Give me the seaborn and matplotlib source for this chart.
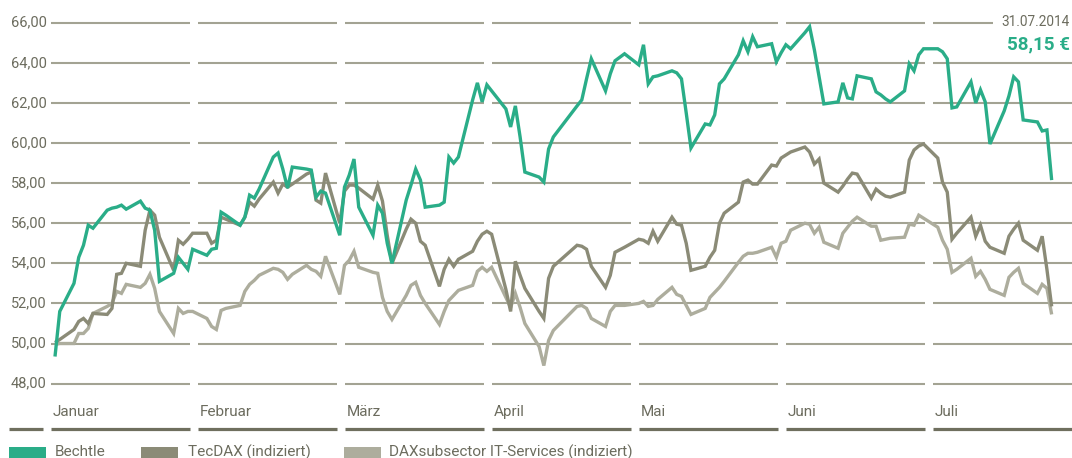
import numpy as np
import pandas as pd
import matplotlib
matplotlib.use("Agg")
import matplotlib.pyplot as plt
from matplotlib.patches import Rectangle
import seaborn as sns

# ---------------- data ----------------
series_names = ["Bechtle", "TecDAX (indiziert)", "DAXsubsector IT-Services (indiziert)"]
months = ["Januar", "Februar", "März", "April", "Mai", "Juni", "Juli"]
y_ticks = [48, 50, 52, 54, 56, 58, 60, 62, 64, 66]
y_tick_labels = ["48,00", "50,00", "52,00", "54,00", "56,00", "58,00", "60,00", "62,00", "64,00", "66,00"]
last_date_label = "31.07.2014"
last_value_label = "58,15 €"
holidays = ["2014-04-18", "2014-04-21", "2014-05-01"]

bechtle = (
    [49.35, 51.6, 53.0, 54.3, 54.9, 55.9, 55.75, 56.65, 56.75, 56.8, 56.9, 56.7, 57.1, 56.75, 56.65, 55.65, 53.1, 53.5, 54.3, 54.0, 53.7, 54.7]
    + [54.4, 54.7, 54.75, 56.55, 56.4, 55.9, 56.3, 57.4, 57.25, 57.7, 59.3, 59.5, 58.7, 57.75, 58.8, 58.7, 58.65, 57.3, 57.6, 57.5]
    + [55.4, 57.8, 58.4, 59.2, 56.8, 55.4, 56.9, 56.5, 55.0, 54.0, 57.15, 57.9, 58.7, 58.15, 56.8, 56.9, 57.05, 59.3, 59.0, 59.3, 62.15]
    + [63.0, 62.05, 62.9, 62.6, 61.7, 60.8, 61.85, 60.3, 58.55, 58.3, 58.05, 59.7, 60.3, 61.85, 62.15, 63.2, 64.2, 62.6, 63.45, 64.1]
    + [64.45, 63.9, 64.9, 62.95, 63.3, 63.35, 63.6, 63.5, 63.2, 61.5, 59.75, 60.95, 60.9, 61.4, 62.95, 63.2, 64.4, 65.1, 64.55, 65.3, 64.8]
    + [64.95, 64.05, 64.5, 64.9, 64.7, 65.5, 65.8, 64.65, 63.3, 61.95, 62.05, 63.0, 62.25, 62.2, 63.35, 63.2, 62.55, 62.4, 62.2, 62.05, 62.6]
    + [63.95, 63.6, 64.4, 64.7, 64.7, 64.55, 64.2, 61.75, 61.8, 63.05, 62.0, 62.65, 62.05, 59.95, 61.6, 62.35, 63.3, 63.05, 61.15, 61.05, 60.6, 60.65, 58.15]
)
tecdax = (
    [50.05, 50.2, 50.7, 51.1, 51.25, 51.0, 51.5, 51.45, 51.75, 53.45, 53.5, 54.0, 53.85, 55.65, 56.65, 56.4, 55.3, 53.65, 55.15, 54.95, 55.2, 55.5]
    + [55.5, 55.0, 55.15, 56.3, 56.2, 55.9, 56.3, 57.05, 56.85, 57.2, 58.05, 57.5, 57.95, 57.8, 57.95, 58.45, 58.55, 57.15, 57.0, 58.5]
    + [56.0, 57.6, 57.9, 57.9, 57.75, 57.2, 57.9, 57.1, 55.4, 54.0, 55.7, 56.2, 56.0, 55.1, 54.9, 52.85, 53.7, 54.2, 53.85, 54.2, 54.6]
    + [55.1, 55.45, 55.6, 55.45, 52.7, 51.6, 54.1, 53.4, 52.75, 51.6, 51.25, 53.25, 53.85, 54.9, 54.85, 54.7, 53.85, 52.8, 53.4, 54.55]
    + [54.8, 55.2, 55.15, 55.0, 55.6, 55.1, 56.3, 55.95, 55.9, 55.0, 53.65, 53.85, 54.3, 54.65, 56.0, 56.5, 57.05, 58.05, 58.15, 57.95, 57.95]
    + [58.9, 58.85, 59.25, 59.4, 59.55, 59.8, 59.55, 58.95, 59.2, 58.0, 57.55, 57.85, 58.2, 58.5, 58.45, 57.25, 57.7, 57.5, 57.35, 57.3, 57.55]
    + [59.15, 59.65, 59.85, 59.95, 59.25, 58.05, 57.55, 55.2, 55.5, 56.3, 55.35, 55.9, 55.1, 54.8, 54.5, 55.35, 55.7, 56.0, 55.15, 54.65, 55.35, 53.7, 51.85]
)
dax_it = (
    [49.95, 50.0, 50.0, 50.5, 50.5, 50.75, 51.5, 51.85, 52.0, 52.6, 52.5, 52.95, 52.8, 53.0, 53.45, 52.75, 51.6, 50.5, 51.75, 51.5, 51.6, 51.6]
    + [51.25, 50.85, 50.7, 51.65, 51.75, 51.9, 52.6, 52.95, 53.15, 53.4, 53.75, 53.7, 53.55, 53.2, 53.45, 53.9, 53.7, 53.6, 53.35, 54.35]
    + [52.45, 53.9, 54.15, 54.6, 53.8, 53.55, 53.5, 52.3, 51.6, 51.2, 52.4, 52.9, 53.05, 52.4, 52.0, 50.95, 51.6, 52.15, 52.4, 52.65, 52.9]
    + [53.6, 53.8, 53.6, 53.8, 52.3, 51.8, 52.5, 51.8, 51.0, 49.85, 48.9, 50.15, 50.65, 51.85, 51.9, 51.75, 51.25, 50.85, 51.6, 51.9]
    + [51.9, 52.0, 52.1, 51.85, 51.9, 52.2, 52.8, 52.45, 52.35, 51.9, 51.45, 51.75, 52.3, 52.55, 52.8, 53.1, 54.05, 54.35, 54.5, 54.5, 54.55]
    + [54.8, 54.3, 55.0, 55.1, 55.65, 56.0, 55.95, 55.5, 55.8, 55.05, 54.75, 55.5, 55.8, 56.1, 56.3, 55.85, 55.85, 55.15, 55.2, 55.25, 55.3]
    + [55.95, 55.9, 56.4, 56.25, 55.8, 55.15, 54.7, 53.55, 53.7, 54.25, 53.35, 53.6, 53.2, 52.7, 52.4, 53.3, 53.55, 53.75, 53.0, 52.5, 52.95, 52.75, 51.45]
)

# trading days (x positions)
dates = pd.bdate_range("2014-01-02", "2014-07-31")
dates = dates[~dates.isin(pd.to_datetime(holidays))]
day = (dates - dates[0]).days.values

df = pd.concat([
    pd.DataFrame({"day": day, "value": vals, "series": name})
    for name, vals in zip(series_names, [bechtle, tecdax, dax_it])
], ignore_index=True)

# ---------------- style ----------------
GREEN = "#2aad88"
DARK = "#8b8b77"
LIGHT = "#adad9d"
GRID = "#a3a393"
BASE = "#6f6f5e"
TEXT = "#6c6c5e"
palette = {series_names[0]: GREEN, series_names[1]: DARK, series_names[2]: LIGHT}

sns.set_theme(style="white")
plt.rcParams["font.family"] = ["Roboto", "DejaVu Sans"]

W, H = 1072, 458
fig = plt.figure(figsize=(W / 100, H / 100), dpi=100)
ax = fig.add_axes([0, 0, 1, 1])

X0_PX, PX_PER_DAY = 55.0, 4.746
Y66_PX, PX_PER_UNIT = 22.7, 20.05


def xd(px):
    return (px - X0_PX) / PX_PER_DAY


def yd(py):
    return 66 - (py - Y66_PX) / PX_PER_UNIT


def fx(px):
    return px / W


def fy(py):
    return 1 - py / H


# month segments (pixel extents)
seg_starts = [51 + 147 * i for i in range(7)]
seg_w = 139

# grid lines
for v in y_ticks:
    for i, s in enumerate(seg_starts):
        e = s + seg_w
        if i == 6:
            e = 993 if v == 66 else W
        ax.plot([xd(s), xd(e)], [v, v], color=GRID, lw=1.5, zorder=1,
                solid_capstyle="butt")

# data lines
sns.lineplot(data=df, x="day", y="value", hue="series",
             hue_order=[series_names[2], series_names[1], series_names[0]],
             palette=palette, estimator=None, legend=False, ax=ax,
             linewidth=2.4)
for ln in ax.lines[-3:]:
    ln.set_solid_joinstyle("miter")
    ln.set_solid_capstyle("butt")

# bottom base line segments
base_y = yd(429)
ax.plot([xd(9), xd(43)], [base_y, base_y], color=BASE, lw=2.3, solid_capstyle="butt")
for i, s in enumerate(seg_starts):
    e = s + seg_w if i < 6 else W
    ax.plot([xd(s), xd(e)], [base_y, base_y], color=BASE, lw=2.3, solid_capstyle="butt")

# month labels
for s, name in zip(seg_starts, months):
    ax.text(xd(s + 2), yd(412), name, ha="left", va="center", fontsize=11, color=TEXT)

# y tick labels
for v, lab in zip(y_ticks, y_tick_labels):
    ax.text(xd(46.5), v, lab, ha="right", va="center", fontsize=10.5, color=TEXT)

# annotation
ax.text(xd(1070), 66 + 0.02, last_date_label, ha="right", va="center",
        fontsize=9.8, color=TEXT)
ax.text(xd(1070), yd(44), last_value_label, ha="right", va="center",
        fontsize=13.5, fontweight="bold", color=GREEN)

# legend
legend_items = [(9, 55, GREEN, series_names[0]),
                (141, 188, DARK, series_names[1]),
                (344, 389, LIGHT, series_names[2])]
for x0, tx, col, lab in legend_items:
    ax.add_patch(Rectangle((fx(x0), fy(458)), 37 / W, 11 / H, transform=ax.transAxes,
                           facecolor=col, edgecolor="none", clip_on=False))
    ax.text(fx(tx), fy(452), lab, transform=ax.transAxes, ha="left", va="center",
            fontsize=11, color=TEXT)

ax.set_xlim(xd(0), xd(W))
ax.set_ylim(yd(H), yd(0))
ax.axis("off")

fig.savefig("out.png", dpi=100, facecolor="white")
